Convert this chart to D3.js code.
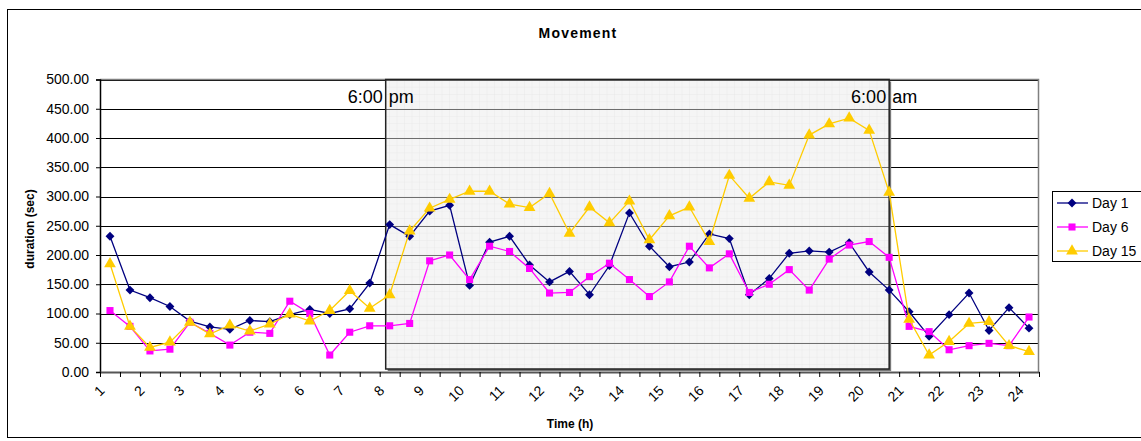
<!DOCTYPE html>
<html>
<head>
<meta charset="utf-8">
<script src="https://cdn.jsdelivr.net/npm/d3@7"></script>
<style>
  body { margin: 0; background: #fff; }
  text { font-family: "Liberation Sans", Arial, sans-serif; }
</style>
</head>
<body>
<div id="chart"></div>
<script>
// category labels (every half hour, only the full hours are written)
var timeLabels = ["1","","2","","3","","4","","5","","6","","7","","8","","9","","10","","11","","12",
  "","13","","14","","15","","16","","17","","18","","19","","20","","21","","22","","23","","24"]

var day1 = [232,140,127,112,87,77,73,88,86,98,107,100,108,152,252,232,275,285,148,222,232,183,154,172,
  132,182,272,215,180,188,236,228,132,160,203,207,205,221,171,140,103,61,98,135,71,110,75]
var day6 = [105,78,36,39,85,66,46,68,66,121,100,29,68,79,79,83,190,200,158,215,206,177,135,136,
  163,186,158,129,154,215,178,202,136,150,175,140,193,217,223,196,78,69,38,45,49,45,94]
var day15 = [185,78,42,51,85,65,80,70,82,99,87,105,139,109,132,241,280,295,309,309,287,281,305,237,
  282,255,292,226,267,282,223,336,297,325,319,405,424,434,413,307,90,29,52,83,86,45,35]

var seriesNames = ["Day 1", "Day 6", "Day 15"]
var yTicks = [0,50,100,150,200,250,300,350,400,450,500]
// night period, in category units
var nightStart = 14.3, nightEnd = 39.5
var nightLabels = ["6:00 pm", "6:00 am"]

var width = 1141, height = 441
var margin = {left: 100, top: 79.5, right: 102, bottom: 69}
var plotW = width - margin.left - margin.right
var plotH = height - margin.top - margin.bottom

var svg = d3.select("#chart").append("svg")
  .attr("width", width).attr("height", height)

// outer chart border
svg.append("rect")
  .attr("x", 7.5).attr("y", 9.5).attr("width", 1200).attr("height", 428)
  .attr("fill", "#fff").attr("stroke", "#000").attr("stroke-width", 1)

var x = d3.scaleLinear().domain([0, timeLabels.length]).range([margin.left, margin.left + plotW])
var y = d3.scaleLinear().domain([0, 500]).range([margin.top + plotH, margin.top])

// fine grid pattern for the night box
var defs = svg.append("defs")
var pat = defs.append("pattern").attr("id", "grid")
  .attr("width", 7.5).attr("height", 7.3).attr("patternUnits", "userSpaceOnUse")
pat.append("rect").attr("width", 7.5).attr("height", 7.3).attr("fill", "#f5f5f5")
pat.append("path").attr("d", "M7.5 0V7.3M0 7.3H7.5")
  .attr("stroke", "#e6e6e6").attr("stroke-width", 0.7).attr("fill", "none")

// horizontal gridlines
svg.append("g").selectAll("line").data(yTicks.slice(1)).enter().append("line")
  .attr("x1", x(0)).attr("x2", x(timeLabels.length))
  .attr("y1", function(d){ return Math.round(y(d)) + 0.5 })
  .attr("y2", function(d){ return Math.round(y(d)) + 0.5 })
  .attr("stroke", "#000").attr("stroke-width", 1)

// plot area border (top/right grey)
svg.append("path")
  .attr("d", "M" + x(0) + "," + (y(500)) + "H" + (x(timeLabels.length) - 0.5) + "V" + y(0))
  .attr("stroke", "#808080").attr("stroke-width", 1.5).attr("fill", "none")

// night box: shadow, then pattern, then grey gridlines through it
svg.append("rect")
  .attr("x", x(nightStart) + 2).attr("y", y(500) + 2)
  .attr("width", x(nightEnd) - x(nightStart)).attr("height", y(0) - y(500) - 3)
  .attr("fill", "#777")
svg.append("rect")
  .attr("x", x(nightStart)).attr("y", y(500))
  .attr("width", x(nightEnd) - x(nightStart)).attr("height", y(0) - y(500) - 3)
  .attr("fill", "url(#grid)")
svg.append("g").selectAll("line").data(yTicks.slice(1)).enter().append("line")
  .attr("x1", x(nightStart)).attr("x2", x(nightEnd))
  .attr("y1", function(d){ return Math.round(y(d)) + 0.5 })
  .attr("y2", function(d){ return Math.round(y(d)) + 0.5 })
  .attr("stroke", "#6e6e6e").attr("stroke-width", 1)
svg.append("rect")
  .attr("x", x(nightStart)).attr("y", y(500))
  .attr("width", x(nightEnd) - x(nightStart)).attr("height", y(0) - y(500) - 3)
  .attr("fill", "none").attr("stroke", "#222").attr("stroke-width", 1.5)

// 6:00 pm / 6:00 am labels straddling the box edges
;[nightStart, nightEnd].forEach(function(v, i) {
  var parts = nightLabels[i].split(" ")
  svg.append("text").attr("x", x(v) - 3).attr("y", 103)
    .attr("text-anchor", "end").style("font-size", "18px").text(parts[0])
  svg.append("text").attr("x", x(v) + 3).attr("y", 103)
    .attr("text-anchor", "start").style("font-size", "18px").text(parts[1])
})

// y axis
var yAxis = svg.append("g").attr("transform", "translate(" + x(0) + ",0)")
  .call(d3.axisLeft(y).tickValues(yTicks).tickFormat(d3.format(".2f")).tickSize(4).tickPadding(7))
yAxis.select(".domain").attr("stroke", "#000").attr("stroke-width", 1.5)
yAxis.selectAll(".tick line").attr("stroke", "#000")
yAxis.selectAll("text").style("font-size", "14px").style("font-family", "Liberation Sans, Arial, sans-serif").attr("fill", "#000")

// x axis: ticks between categories
var xAxis = svg.append("g").attr("transform", "translate(0," + y(0) + ")")
  .call(d3.axisBottom(x).tickValues(d3.range(timeLabels.length + 1)).tickFormat("").tickSize(5).tickSizeOuter(0))
xAxis.select(".domain").attr("stroke", "#555").attr("stroke-width", 2)
xAxis.selectAll(".tick line").attr("stroke", "#000")

svg.append("g").selectAll("text").data(timeLabels).enter().append("text")
  .attr("transform", function(d, i){ return "translate(" + (x(i + 0.5) - 8) + "," + (y(0) + 16) + ") rotate(-45)" })
  .attr("text-anchor", "end")
  .attr("dy", "0.35em")
  .style("font-size", "14px")
  .text(function(d){ return d })

// series
var colors = ["#000080", "#ff00ff", "#ffcc00"]
var shapes = [d3.symbolDiamond2 || d3.symbolDiamond, d3.symbolSquare, d3.symbolTriangle]
var sizes = [50, 50, 60]
var allSeries = [day1, day6, day15]

var line = d3.line()
  .x(function(d, i){ return x(i + 0.5) })
  .y(function(d){ return y(d) })

allSeries.forEach(function(data, s) {
  svg.append("path").datum(data)
    .attr("d", line)
    .attr("fill", "none").attr("stroke", colors[s]).attr("stroke-width", 1.3)
  svg.append("g").selectAll("path").data(data).enter().append("path")
    .attr("d", d3.symbol().type(shapes[s]).size(sizes[s]))
    .attr("transform", function(d, i){ return "translate(" + x(i + 0.5) + "," + y(d) + ")" })
    .attr("fill", colors[s])
})

// titles
svg.append("text").attr("x", 578).attr("y", 38).attr("text-anchor", "middle")
  .style("font-size", "14px").style("font-weight", "bold").style("letter-spacing", "1.2px").text("Movement")
svg.append("text").attr("x", 570).attr("y", 428).attr("text-anchor", "middle")
  .style("font-size", "12px").style("font-weight", "bold").text("Time (h)")
svg.append("text").attr("transform", "translate(34,229) rotate(-90)").attr("text-anchor", "middle")
  .style("font-size", "12px").style("font-weight", "bold").text("duration (sec)")

// legend
var leg = svg.append("g").attr("transform", "translate(1052,191)")
leg.append("rect").attr("x", 0.5).attr("y", 0.5).attr("width", 120).attr("height", 70)
  .attr("fill", "#fff").attr("stroke", "#000")
seriesNames.forEach(function(name, s) {
  var ly = 12 + s * 24
  leg.append("line").attr("x1", 5).attr("x2", 36).attr("y1", ly).attr("y2", ly)
    .attr("stroke", colors[s]).attr("stroke-width", 1.3)
  leg.append("path").attr("d", d3.symbol().type(shapes[s]).size(sizes[s]))
    .attr("transform", "translate(20," + ly + ")").attr("fill", colors[s])
  leg.append("text").attr("x", 40).attr("y", ly + 5).style("font-size", "14px").text(name)
})
</script>
</body>
</html>
